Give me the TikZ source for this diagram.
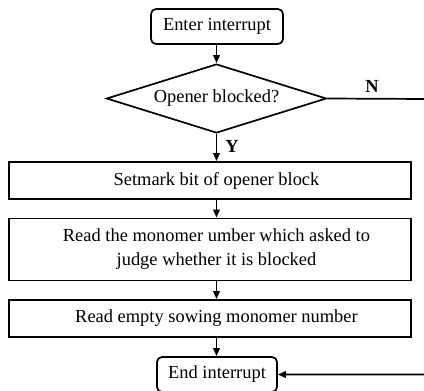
\documentclass[tikz,border=0pt]{standalone}
\usepackage{fontspec}
\setmainfont{Liberation Serif}
\usetikzlibrary{shapes.geometric,arrows.meta}
\begin{document}
\begin{tikzpicture}[x=1bp,y=-1bp,
  every node/.style={font=\fontsize{18.5}{24}\selectfont},
  line/.style={line width=1.7bp},
  arr/.style={line, -{Triangle[length=8bp,width=6.5bp]}},
  term/.style={draw, line width=1.7bp, rounded corners=5bp, inner sep=0pt},
  proc/.style={draw, line width=1.7bp, minimum width=402bp, inner sep=0pt, align=center},
  dec/.style={draw, line width=1.7bp, diamond, minimum width=220bp, minimum height=69bp, aspect=3.19, inner sep=0pt},
  lab/.style={inner sep=0pt, font=\fontsize{18.5}{22}\selectfont\bfseries}]
\useasboundingbox (0,0) rectangle (424,391);
\node[term, minimum width=132bp, minimum height=35bp] (enter) at (217,26.5) {Enter interrupt};
\node[dec] (dec) at (216.5,98.5) {Opener blocked?};
\node[proc, minimum height=37bp] (s1) at (210,180.5) {\hspace*{13bp}Setmark bit of opener block};
\node[proc, minimum height=62bp] (s2) at (210,249.5) {\hspace*{13bp}Read the monomer umber which asked to\\\hspace*{13bp}judge whether it is blocked};
\node[proc, minimum height=37bp] (s3) at (210,318.5) {\hspace*{13bp}Read empty sowing monomer number};
\node[term, minimum width=120bp, minimum height=35bp] (end) at (217,374.5) {End interrupt};
\coordinate (rc) at (427,99);
\node[lab] (ylab) at (232,146.5) {Y};
\node[lab] (nlab) at (372,86) {N};
\draw[arr] (enter.south -| dec.north) -- (dec.north);
\draw[arr] (dec.south) -- (dec.south |- s1.north);
\draw[arr] (dec.south |- s1.south) -- (dec.south |- s2.north);
\draw[arr] (dec.south |- s2.south) -- (dec.south |- s3.north);
\draw[arr] (dec.south |- s3.south) -- (dec.south |- end.north);
\draw[arr] (dec.east) -- (rc) |- (end.east);
\end{tikzpicture}
\end{document}
